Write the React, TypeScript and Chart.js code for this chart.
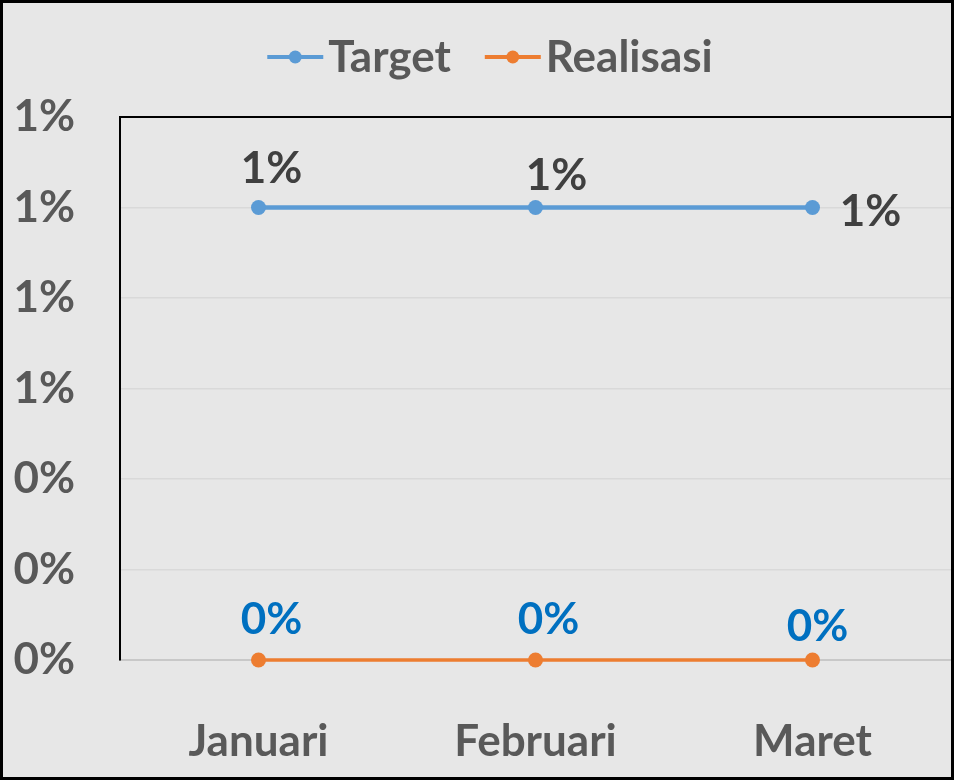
import { useEffect, useRef } from 'react';
import { Chart, registerables } from 'chart.js';

Chart.register(...registerables);

const categories = ['Januari', 'Februari', 'Maret'];
const targetValues = [0.01, 0.01, 0.01];
const realisasiValues = [0, 0, 0];
const yMin = 0;
const yMax = 0.012;
const yStep = 0.002;

const FONT = 'Lato, "Open Sans", sans-serif';
const FSIZE = 44;
const BG = '#e7e7e7';
const AXIS_TEXT = '#595959';
const TARGET_COLOR = '#5B9BD5';
const REAL_COLOR = '#ED7D31';

const pct = (v: number) => Math.round(v * 100) + '%';

// label offsets (dx, dy from point to label centre)
const labelOffsets: Record<number, [number, number][]> = {
  0: [[13, -39], [21, -32], [58, 4]],
  1: [[13, -40], [13, -40], [5, -33]],
};
const labelColors = ['#404040', '#0070C0'];

const framePlugin = {
  id: 'frame',
  beforeDraw(chart: any) {
    const { ctx, width, height } = chart;
    ctx.save();
    ctx.fillStyle = BG;
    ctx.fillRect(0, 0, width, height);
    ctx.restore();
  },
  afterDraw(chart: any) {
    const { ctx, chartArea } = chart;
    ctx.save();
    // plot top border
    ctx.strokeStyle = '#000';
    ctx.lineWidth = 2;
    ctx.beginPath();
    ctx.moveTo(chartArea.left - 1, chartArea.top);
    ctx.lineTo(chartArea.right, chartArea.top);
    ctx.stroke();

    // data labels
    ctx.font = `bold ${FSIZE}px ${FONT}`;
    ctx.textAlign = 'center';
    ctx.textBaseline = 'middle';
    chart.data.datasets.forEach((ds: any, di: number) => {
      const meta = chart.getDatasetMeta(di);
      meta.data.forEach((pt: any, i: number) => {
        const [dx, dy] = labelOffsets[di][i];
        ctx.fillStyle = labelColors[di];
        ctx.fillText(pct(ds.data[i]), pt.x + dx, pt.y + dy);
      });
    });

    // legend
    const items = chart.data.datasets.map((ds: any) => ({ label: ds.label, color: ds.borderColor }));
    const lineW = 56;
    const gapLT = 5;
    const gapItems = 34;
    ctx.font = `bold ${FSIZE}px ${FONT}`;
    const widths = items.map((it: any) => lineW + gapLT + ctx.measureText(it.label).width);
    const total = widths.reduce((a: number, b: number) => a + b, 0) + gapItems * (items.length - 1);
    let x = 490 - total / 2;
    const y = 57;
    items.forEach((it: any, k: number) => {
      ctx.strokeStyle = it.color;
      ctx.lineWidth = 4;
      ctx.beginPath();
      ctx.moveTo(x, y);
      ctx.lineTo(x + lineW, y);
      ctx.stroke();
      ctx.fillStyle = it.color;
      ctx.beginPath();
      ctx.arc(x + lineW / 2, y, 6.5, 0, Math.PI * 2);
      ctx.fill();
      ctx.fillStyle = AXIS_TEXT;
      ctx.textAlign = 'left';
      ctx.textBaseline = 'middle';
      ctx.fillText(it.label, x + lineW + gapLT, y + 1);
      x += widths[k] + gapItems;
    });

    // outer border
    ctx.strokeStyle = '#000';
    ctx.lineWidth = 3;
    ctx.strokeRect(1.5, 1.5, chart.width - 3, chart.height - 3);
    ctx.restore();
  },
};

export default function App() {
  const ref = useRef<HTMLCanvasElement | null>(null);
  useEffect(() => {
    if (!ref.current) return;
    const chart = new Chart(ref.current, {
      type: 'line',
      data: {
        labels: categories,
        datasets: [
          {
            label: 'Target',
            data: targetValues,
            borderColor: TARGET_COLOR,
            backgroundColor: TARGET_COLOR,
            borderWidth: 4.5,
            pointRadius: 7.5,
            pointHoverRadius: 7.5,
            pointBorderWidth: 0,
            pointHoverBorderWidth: 0,
            pointBackgroundColor: TARGET_COLOR,
            tension: 0,
            clip: false,
          },
          {
            label: 'Realisasi',
            data: realisasiValues,
            borderColor: REAL_COLOR,
            backgroundColor: REAL_COLOR,
            borderWidth: 3.5,
            pointRadius: 7.5,
            pointHoverRadius: 7.5,
            pointBorderWidth: 0,
            pointHoverBorderWidth: 0,
            pointBackgroundColor: REAL_COLOR,
            tension: 0,
            clip: false,
          },
        ],
      },
      options: {
        responsive: false,
        animation: false,
        layout: { padding: { top: 117, right: 3, left: 0, bottom: 0 } },
        plugins: { legend: { display: false }, tooltip: { enabled: false } },
        scales: {
          x: {
            offset: true,
            afterFit: (s: any) => { s.height = 120; s.paddingLeft = 0; s.paddingRight = 0; },
            grid: { display: false, drawTicks: false },
            border: { display: true, color: '#c8c8c8', width: 2 },
            ticks: {
              color: AXIS_TEXT,
              font: { family: FONT, size: FSIZE, weight: 'bold' },
              padding: 55,
            },
          },
          y: {
            min: yMin,
            max: yMax,
            afterFit: (s: any) => { s.width = 120; s.paddingTop = 0; s.paddingBottom = 0; },
            grid: { color: '#d9d9d9', lineWidth: 1.5, drawTicks: false },
            border: { display: true, color: '#000', width: 2 },
            ticks: {
              stepSize: yStep,
              color: AXIS_TEXT,
              font: { family: FONT, size: FSIZE, weight: 'bold' },
              padding: 45,
              callback: (v: any) => pct(Number(v)),
            },
          },
        },
      },
      plugins: [framePlugin],
    } as any);
    // don't let point overflow reserve extra padding around the plot area
    chart.data.datasets.forEach((_: any, i: number) => {
      const ctrl: any = chart.getDatasetMeta(i).controller;
      if (ctrl) ctrl.getMaxOverflow = () => 0;
    });
    chart.update();
    return () => chart.destroy();
  }, []);
  return (
    <div style={{ position: 'absolute', left: 0, top: 0, width: 954, height: 780 }}>
      <canvas ref={ref} width={954} height={780} style={{ width: 954, height: 780, display: 'block' }} />
    </div>
  );
}
